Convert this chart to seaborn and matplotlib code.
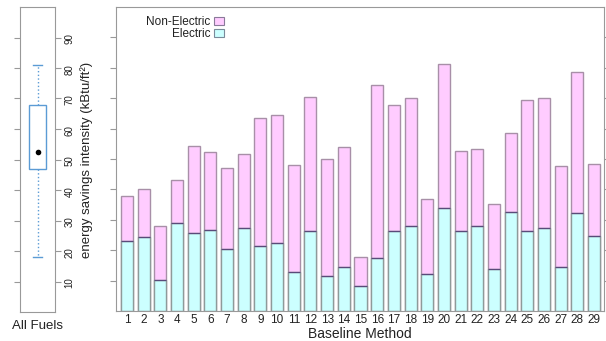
import matplotlib
matplotlib.use("Agg")
import matplotlib.pyplot as plt
from matplotlib.patches import Patch
import numpy as np
import pandas as pd
import seaborn as sns

methods = [str(i) for i in range(1, 30)]
total = [37.9, 40.0, 28.1, 43.0, 54.4, 52.3, 47.0, 51.8, 63.6, 64.6,
         47.9, 70.3, 49.9, 53.9, 17.9, 74.2, 67.8, 70.1, 36.7, 81.1,
         52.5, 53.3, 35.3, 58.7, 69.4, 70.2, 47.7, 78.5, 48.5]
electric = [22.9, 24.2, 10.2, 28.9, 25.5, 26.6, 20.3, 27.4, 21.4, 22.3,
            12.9, 26.3, 11.4, 14.6, 8.3, 17.3, 26.4, 27.8, 12.1, 34.0,
            26.3, 27.8, 13.8, 32.5, 26.3, 27.2, 14.6, 32.2, 24.7]
yticks = [10, 20, 30, 40, 50, 60, 70, 80, 90]

df = pd.DataFrame({"method": methods, "total": total, "electric": electric})

plt.rcParams["font.family"] = ["Liberation Sans", "DejaVu Sans"]
txt = "#222222"
spine_c = "#999999"
pink = "#FFCCFF"
cyan = "#CCFFFF"
blue = "#5B9BD5"

fig = plt.figure(figsize=(6.06, 3.41), dpi=100)
W, H = 606, 341
axl = fig.add_axes([20 / W, (341 - 312) / H, 35 / W, 305 / H])
axm = fig.add_axes([116 / W, (341 - 311) / H, 488 / W, 304 / H])

# ---- left panel: boxplot of totals ----
sns.boxplot(y=df["total"], ax=axl, width=0.46, color="white", saturation=1,
            boxprops={"facecolor": "white", "edgecolor": blue, "linewidth": 1},
            whiskerprops={"color": blue, "linestyle": ":", "linewidth": 1},
            capprops={"color": blue, "linewidth": 1},
            medianprops={"visible": False}, showfliers=False)
sns.pointplot(y=df["total"], ax=axl, estimator="median", errorbar=None,
              color="black", markersize=2, linestyle="none")
axl.set_xlim(-0.5, 0.5)
axl.set_ylim(0, 100)
axl.set_yticks(yticks)
axl.set_yticklabels([str(t) for t in yticks])
axl.tick_params(axis="y", left=True, right=True, labelleft=False, labelright=True,
                labelrotation=90, labelsize=7, colors=spine_c, labelcolor=txt,
                length=4, pad=3)
axl.set_xticks([0])
axl.set_xticklabels(["All Fuels"], fontsize=9.5, color=txt)
axl.tick_params(axis="x", length=0, pad=6)
axl.set_xlabel("")
axl.yaxis.set_label_position("right")
axl.set_ylabel("energy savings intensity (kBtu/ft²)", fontsize=9.5, color=txt,
               labelpad=4)
for s in axl.spines.values():
    s.set_color(spine_c)

# ---- main panel: stacked bars ----
sns.barplot(data=df, x="method", y="total", ax=axm, color=pink, saturation=1,
            width=0.72, edgecolor="#A88FA8", linewidth=1)
sns.barplot(data=df, x="method", y="electric", ax=axm, color=cyan, saturation=1,
            width=0.72, edgecolor="#8E9A9A", linewidth=1)
# dark boundary line between segments
for p in axm.patches[len(methods):]:
    x0 = p.get_x()
    axm.plot([x0, x0 + p.get_width()], [p.get_height()] * 2, color="#5A4A7A",
             lw=0.9, solid_capstyle="butt")
axm.set_xlim(-0.66, 28.6)
axm.set_ylim(0, 100)
axm.set_yticks(yticks)
axm.set_yticklabels([])
axm.tick_params(axis="y", left=True, right=True, colors=spine_c, length=4,
                direction="out")
axm.tick_params(axis="x", length=0, pad=2, labelsize=8.5, labelcolor=txt)
axm.set_ylabel("")
axm.set_xlabel("Baseline Method", fontsize=10, color=txt, labelpad=1)
for s in axm.spines.values():
    s.set_color(spine_c)

handles = [Patch(facecolor=pink, edgecolor="#8A7A9A", linewidth=0.8),
           Patch(facecolor=cyan, edgecolor="#7A8A9A", linewidth=0.8)]
axm.legend(handles, ["Non-Electric", "Electric"], loc="upper left",
           bbox_to_anchor=(0.05, 0.99), frameon=False, markerfirst=False,
           fontsize=8.5, borderpad=0, handletextpad=0.3, handlelength=0.8,
           handleheight=0.75, labelspacing=0.0, labelcolor=txt)

fig.savefig("out.png", dpi=100)
